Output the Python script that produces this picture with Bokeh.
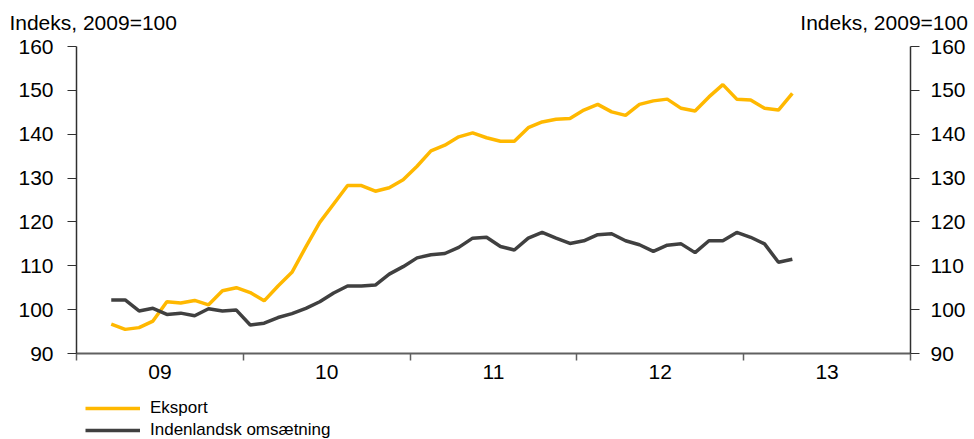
from bokeh.plotting import figure
from bokeh.layouts import column
from bokeh.models import (LinearAxis, Range1d, FixedTicker, Legend,
                          LegendItem, ColumnDataSource)
from bokeh.embed import file_html
from bokeh.resources import INLINE

# ---- data (monthly index, 2009=100), March 2009 - April 2013 ----
year_labels = ["09", "10", "11", "12", "13"]
first_month = 2  # months after January 2009 (March 2009)
eksport = [96.7, 95.5, 95.9, 97.4, 101.8, 101.5, 102.1, 101.1, 104.3, 105.0,
           103.9, 102.0, 105.4, 108.5, 114.3, 119.9, 124.1, 128.3, 128.3, 127.0,
           127.8, 129.6, 132.7, 136.2, 137.5, 139.4, 140.3, 139.2, 138.4, 138.4,
           141.5, 142.8, 143.4, 143.6, 145.5, 146.8, 145.1, 144.3, 146.8, 147.6,
           148.0, 145.9, 145.3, 148.5, 151.3, 148.0, 147.8, 145.9, 145.5, 149.3]
indenlandsk = [102.2, 102.2, 99.7, 100.3, 98.9, 99.2, 98.6, 100.2, 99.7, 99.9,
               96.5, 96.9, 98.2, 99.1, 100.3, 101.8, 103.8, 105.4, 105.4, 105.6,
               108.1, 109.8, 111.8, 112.5, 112.8, 114.2, 116.3, 116.5, 114.4, 113.6,
               116.3, 117.6, 116.3, 115.1, 115.7, 117.1, 117.3, 115.7, 114.8, 113.3,
               114.7, 115.0, 113.0, 115.7, 115.7, 117.6, 116.5, 115.0, 110.8, 111.5]
y_ticks = [90, 100, 110, 120, 130, 140, 150, 160]
series_names = ["Eksport", "Indenlandsk omsætning"]
axis_title = "Indeks, 2009=100"
colors = ["#FFB800", "#404040"]

# layout: where the two axis titles sit (in month units along the top edge)
title_pos = [1.2, 58.1]

x = [first_month + i + 0.5 for i in range(len(eksport))]
src = ColumnDataSource(dict(x=x, eksport=eksport, indenlandsk=indenlandsk))

FONT = "Liberation Sans"
W = 970
MAIN_H = 386
FOOT_H = 439 - MAIN_H
ML, MR, MT, MB = 76, 60, 46, 33

p = figure(width=W, height=MAIN_H, x_range=Range1d(0, 12 * len(year_labels)),
           y_range=Range1d(y_ticks[0], y_ticks[-1]), output_backend="svg",
           toolbar_location=None, min_border_left=ML, min_border_right=MR,
           min_border_top=MT, min_border_bottom=MB, x_axis_type=None,
           y_axis_type=None)
p.outline_line_color = None
p.background_fill_color = "white"
p.border_fill_color = "white"

# axis titles, carried by a bare axis along the top
tax = LinearAxis(ticker=FixedTicker(ticks=title_pos, minor_ticks=[]))
tax.major_label_overrides = {t: axis_title for t in title_pos}
tax.axis_line_color = None
tax.major_tick_line_color = None
tax.minor_tick_line_color = None
tax.major_tick_out = 0
tax.major_tick_in = 0
tax.major_label_standoff = 13
tax.major_label_text_font = FONT
tax.major_label_text_font_size = "21px"
tax.major_label_text_color = "black"
p.add_layout(tax, "above")

# x axis: labels centred in each year, ticks at year boundaries
xt = FixedTicker(ticks=[12 * i + 6 for i in range(len(year_labels))],
                 minor_ticks=[12 * i for i in range(len(year_labels) + 1)])
xax = LinearAxis(ticker=xt)
xax.major_label_overrides = {12 * i + 6: lab for i, lab in enumerate(year_labels)}
xax.major_tick_out = 0
xax.major_tick_in = 0
xax.minor_tick_out = 7
xax.minor_tick_in = 0
xax.minor_tick_line_color = "#606060"
xax.minor_tick_line_width = 1.5
xax.axis_line_color = "#606060"
xax.axis_line_width = 2
xax.major_label_standoff = 4
xax.major_label_text_font = FONT
xax.major_label_text_font_size = "21px"
xax.major_label_text_color = "black"
p.add_layout(xax, "below")

yt = FixedTicker(ticks=y_ticks, minor_ticks=[])
for side, standoff in (("left", 14), ("right", 11)):
    ax = LinearAxis(ticker=yt)
    ax.major_tick_out = 9
    ax.major_tick_in = 0
    ax.minor_tick_out = 0
    ax.minor_tick_in = 0
    ax.axis_line_color = "#303030"
    ax.axis_line_width = 1.5
    ax.major_tick_line_color = "#303030"
    ax.major_tick_line_width = 1.2
    ax.major_label_standoff = standoff
    ax.major_label_text_font = FONT
    ax.major_label_text_font_size = "21px"
    ax.major_label_text_color = "black"
    p.add_layout(ax, side)

p.ygrid.ticker = yt
p.ygrid.grid_line_color = "#c4c4c4"
p.ygrid.grid_line_width = 1.5
p.xgrid.visible = False

p.line("x", "eksport", source=src, line_color=colors[0], line_width=3.5)
p.line("x", "indenlandsk", source=src, line_color=colors[1], line_width=3.5)

# ---- footer strip carrying the legend (its own lines fall outside its view) ----
foot = figure(width=W, height=FOOT_H, x_range=Range1d(0, 1), y_range=Range1d(0, 1),
              output_backend="svg", toolbar_location=None, x_axis_type=None,
              y_axis_type=None, min_border=0)
foot.outline_line_color = None
foot.background_fill_color = "white"
foot.border_fill_color = "white"
k1 = foot.line("x", "eksport", source=src, line_color=colors[0], line_width=3.5)
k2 = foot.line("x", "indenlandsk", source=src, line_color=colors[1], line_width=3.5)
legend = Legend(items=[LegendItem(label=series_names[0], renderers=[k1]),
                       LegendItem(label=series_names[1], renderers=[k2])],
                location=(9, -1), orientation="vertical", padding=0, margin=0,
                spacing=2, glyph_width=55, glyph_height=20, label_height=20,
                label_standoff=10, label_text_font=FONT,
                label_text_font_size="17px", label_text_color="black",
                background_fill_alpha=0, border_line_alpha=0)
foot.add_layout(legend)

page = column(p, foot, spacing=0)
open("out.html", "w").write(file_html(page, INLINE))
